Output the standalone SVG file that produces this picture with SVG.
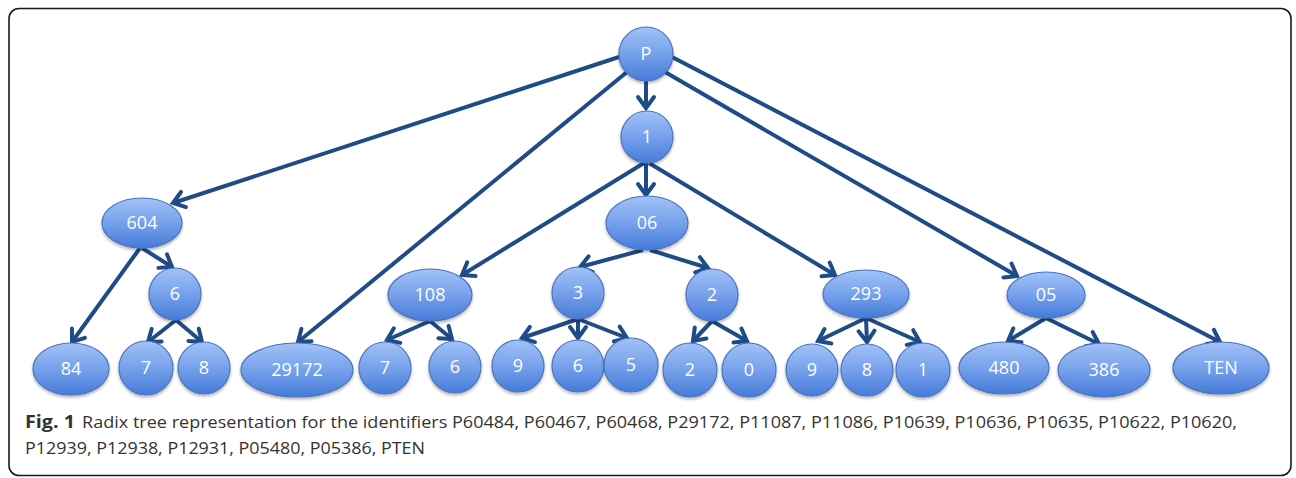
<svg xmlns="http://www.w3.org/2000/svg" width="1296" height="478" viewBox="0 0 1296 478">
<defs>
<linearGradient id="g" x1="0" y1="0" x2="0" y2="1">
<stop offset="0" stop-color="#a2c2f7"/>
<stop offset="0.5" stop-color="#76a1eb"/>
<stop offset="1" stop-color="#457bd8"/>
</linearGradient>
<filter id="sh" x="-20%" y="-20%" width="140%" height="150%">
<feDropShadow dx="0" dy="2" stdDeviation="1.5" flood-color="#000" flood-opacity="0.3"/>
</filter>
<marker id="ah" markerUnits="userSpaceOnUse" markerWidth="30" markerHeight="30" refX="0" refY="0" orient="auto" overflow="visible" viewBox="-15 -15 30 30">
<path d="M-11,-8 L0,0 L-11,8" fill="none" stroke="#1f4b87" stroke-width="4" stroke-linecap="round" stroke-linejoin="miter"/>
</marker>
</defs>
<style>
.n ellipse, .n circle { fill: url(#g); stroke: #4a74bd; stroke-width: 1.2; filter: url(#sh); }
.n text { font-family: "Open Sans", "Noto Sans", sans-serif; font-size: 18px; fill: #ffffff; text-anchor: middle; }
#edges line { stroke: #1f4b87; stroke-width: 4; marker-end: url(#ah); }
.cap { font-family: "Open Sans", "Noto Sans", sans-serif; font-size: 17px; fill: #333333; }
</style>
<rect x="9" y="8.5" width="1282" height="467" rx="10" ry="10" fill="#ffffff" stroke="#1a1a1a" stroke-width="1.6"/>
<g id="edges">
<line x1="622" y1="56" x2="173" y2="203"/>
<line x1="627" y1="72" x2="298" y2="342"/>
<line x1="646" y1="81" x2="646" y2="108"/>
<line x1="665" y1="72" x2="1017" y2="276"/>
<line x1="672" y1="57" x2="1220" y2="342"/>
<line x1="646" y1="163" x2="646" y2="195"/>
<line x1="644" y1="163" x2="462" y2="275"/>
<line x1="649" y1="163" x2="835" y2="275"/>
<line x1="140" y1="248" x2="72" y2="342"/>
<line x1="142" y1="248" x2="172" y2="267"/>
<line x1="176" y1="320" x2="148" y2="342"/>
<line x1="176" y1="320" x2="202" y2="342"/>
<line x1="430" y1="321" x2="387" y2="340"/>
<line x1="430" y1="321" x2="452" y2="339"/>
<line x1="643" y1="250" x2="580" y2="267"/>
<line x1="650" y1="250" x2="708" y2="268"/>
<line x1="578" y1="319" x2="522" y2="338"/>
<line x1="578" y1="319" x2="578" y2="338"/>
<line x1="578" y1="319" x2="627" y2="338"/>
<line x1="712" y1="321" x2="693" y2="341"/>
<line x1="712" y1="321" x2="747" y2="341"/>
<line x1="866" y1="318" x2="818" y2="341"/>
<line x1="866" y1="318" x2="867" y2="342"/>
<line x1="866" y1="318" x2="920" y2="342"/>
<line x1="1046" y1="318" x2="1008" y2="341"/>
<line x1="1046" y1="318" x2="1099" y2="344"/>
</g>
<g id="nP" class="n"><circle cx="646" cy="54" r="27"/><text x="646" y="60">P</text></g>
<g id="n1" class="n"><circle cx="647" cy="137" r="26"/><text x="647" y="143">1</text></g>
<g id="n604" class="n"><ellipse cx="142" cy="223" rx="40" ry="25"/><text x="142" y="229">604</text></g>
<g id="n06" class="n"><ellipse cx="647" cy="223" rx="41" ry="27"/><text x="647" y="229">06</text></g>
<g id="n6a" class="n"><circle cx="175" cy="294" r="26"/><text x="175" y="300">6</text></g>
<g id="n108" class="n"><ellipse cx="430" cy="295" rx="42" ry="26"/><text x="430" y="301">108</text></g>
<g id="n3" class="n"><circle cx="578" cy="293" r="26"/><text x="578" y="299">3</text></g>
<g id="n2a" class="n"><circle cx="712" cy="295" r="26"/><text x="712" y="301">2</text></g>
<g id="n293" class="n"><ellipse cx="866" cy="294" rx="43" ry="24"/><text x="866" y="300">293</text></g>
<g id="n05" class="n"><ellipse cx="1046" cy="295" rx="39" ry="23"/><text x="1046" y="301">05</text></g>
<g id="n84" class="n"><ellipse cx="71" cy="369" rx="38" ry="26"/><text x="71" y="375">84</text></g>
<g id="n7a" class="n"><circle cx="146" cy="368" r="27"/><text x="146" y="374">7</text></g>
<g id="n8a" class="n"><circle cx="204" cy="368" r="26"/><text x="204" y="374">8</text></g>
<g id="n29172" class="n"><ellipse cx="297" cy="370" rx="56" ry="27"/><text x="297" y="376">29172</text></g>
<g id="n7b" class="n"><circle cx="385" cy="368" r="26"/><text x="385" y="374">7</text></g>
<g id="n6b" class="n"><circle cx="455" cy="367" r="26"/><text x="455" y="373">6</text></g>
<g id="n9a" class="n"><circle cx="518" cy="366" r="26"/><text x="518" y="372">9</text></g>
<g id="n6c" class="n"><circle cx="578" cy="366" r="26"/><text x="578" y="372">6</text></g>
<g id="n5" class="n"><circle cx="631" cy="365" r="27"/><text x="631" y="371">5</text></g>
<g id="n2b" class="n"><circle cx="690" cy="370" r="27"/><text x="690" y="376">2</text></g>
<g id="n0" class="n"><circle cx="749" cy="370" r="27"/><text x="749" y="376">0</text></g>
<g id="n9b" class="n"><circle cx="812" cy="370" r="26"/><text x="812" y="376">9</text></g>
<g id="n8b" class="n"><circle cx="867" cy="370" r="26"/><text x="867" y="376">8</text></g>
<g id="n1b" class="n"><circle cx="923" cy="370" r="27"/><text x="923" y="376">1</text></g>
<g id="n480" class="n"><ellipse cx="1004" cy="368" rx="45" ry="26"/><text x="1004" y="374">480</text></g>
<g id="n386" class="n"><ellipse cx="1104" cy="370" rx="46" ry="27"/><text x="1104" y="376">386</text></g>
<g id="nTEN" class="n"><ellipse cx="1221" cy="368" rx="48" ry="26"/><text x="1221" y="374">TEN</text></g>
<g id="caption">
<text class="cap" x="25" y="428" font-weight="bold" textLength="50" lengthAdjust="spacingAndGlyphs">Fig. 1</text>
<text class="cap" x="82" y="428" textLength="1155" lengthAdjust="spacingAndGlyphs">Radix tree representation for the identifiers P60484, P60467, P60468, P29172, P11087, P11086, P10639, P10636, P10635, P10622, P10620,</text>
<text class="cap" x="25" y="454" textLength="400" lengthAdjust="spacingAndGlyphs">P12939, P12938, P12931, P05480, P05386, PTEN</text>
</g>
</svg>
